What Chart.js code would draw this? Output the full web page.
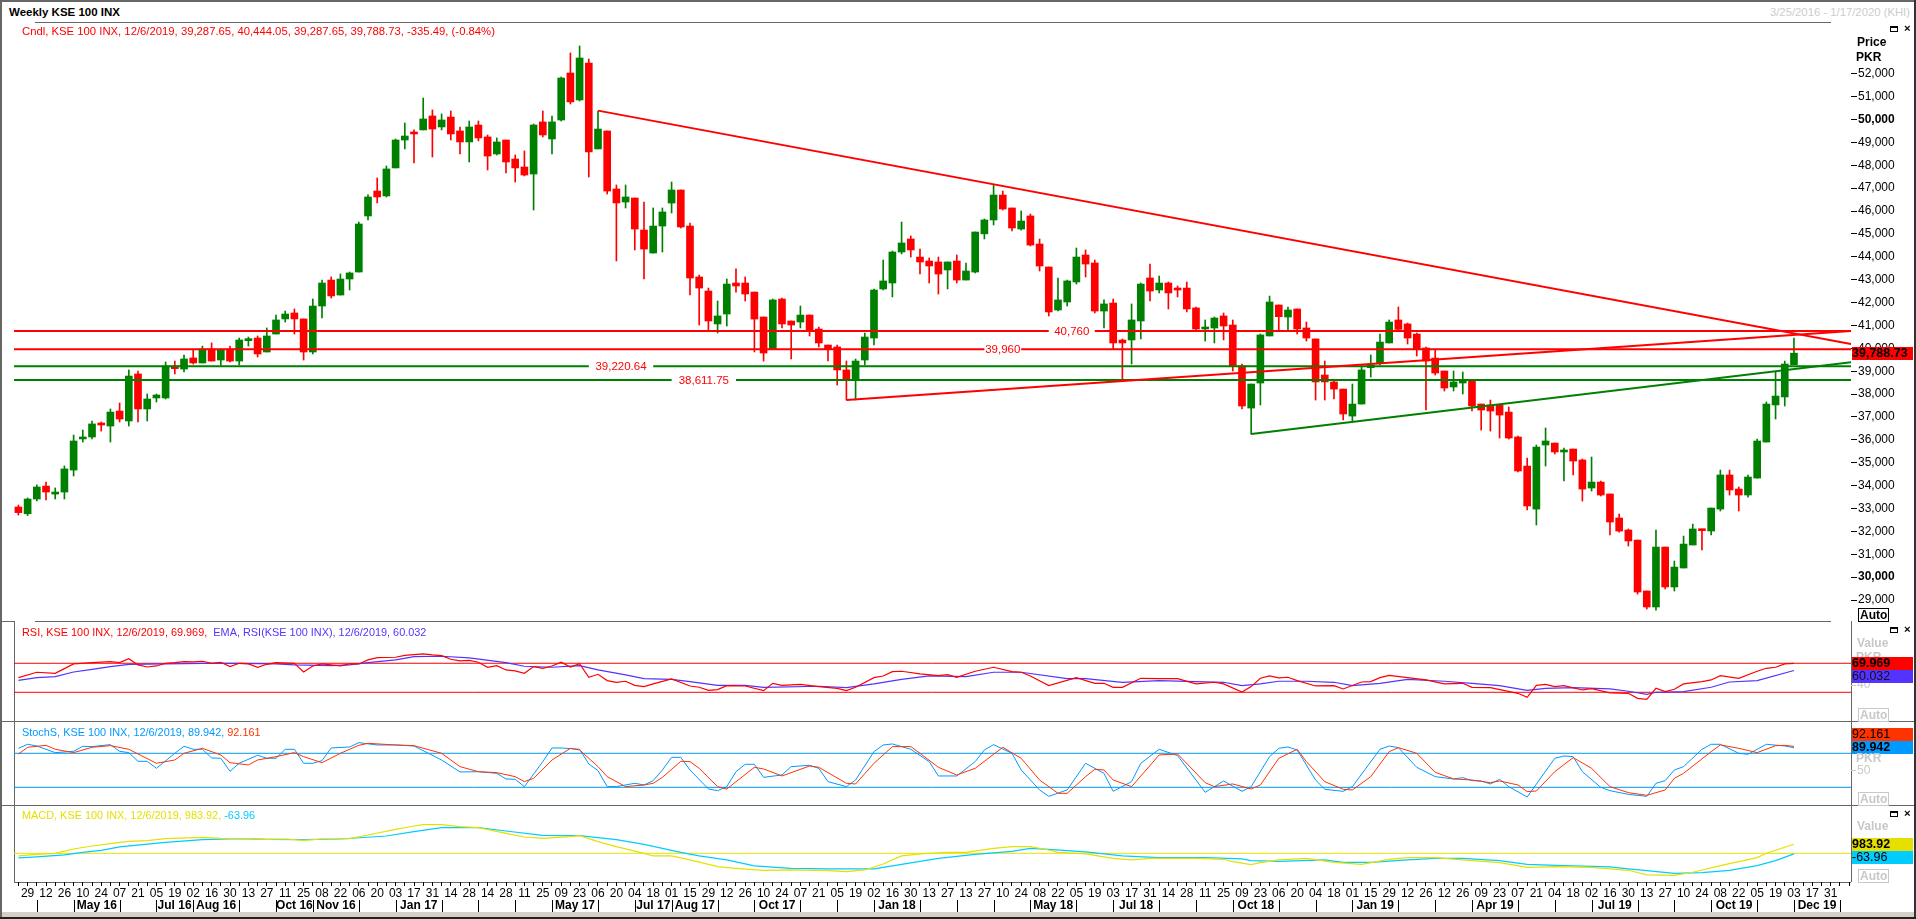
<!DOCTYPE html>
<html>
<head>
<meta charset="utf-8">
<title>Weekly KSE 100 INX</title>
<script src="https://cdn.jsdelivr.net/npm/chart.js@4"></script>
<style>
  html, body { margin: 0; padding: 0; background: #fff; overflow: hidden; }
  #page { position: relative; width: 1916px; height: 919px; font: 11.3px "Liberation Sans", sans-serif; }
  canvas { position: absolute; left: 0; }
  .t { position: absolute; white-space: nowrap; line-height: 13px; }
  .b { font-weight: bold; }
  .leg { font-size: 10.9px; }
  .faint { color: #c8c8c8; font-weight: bold; font-size: 12px; }
  .ln { position: absolute; background: #666; }
  .val { position: absolute; left: 1852px; width: 61px; height: 13px; line-height: 13px; color: #000; font-size: 12.5px; }
  .auto { position: absolute; left: 1858px; height: 12px; line-height: 12px; padding: 0 1px; border: 1px solid #000; font-weight: bold; font-size: 12px; }
  .auto.off { border-color: #c8c8c8; color: #c8c8c8; }
  .ico { position: absolute; width: 6px; height: 3px; border: 1px solid #000; border-top-width: 2px; }
</style>
</head>
<body>
<div id="page">
  <!-- frame -->
  <div class="ln" style="left:0;top:0;width:1916px;height:2px"></div>
  <div class="ln" style="left:0;top:0;width:2px;height:919px"></div>
  <div class="ln" style="left:1914px;top:0;width:2px;height:919px;background:#333"></div>
  <div class="ln" style="left:0;top:917px;width:1916px;height:2px;background:#222"></div>
  <div class="ln" style="left:2px;top:912px;width:1912px;height:5px;background:#d4d0c8"></div>
  <div class="ln" style="left:35px;top:22px;width:1796px;height:1px"></div>
  <div class="ln" style="left:2px;top:621px;width:12px;height:1px"></div>
  <div class="ln" style="left:35px;top:621px;width:1796px;height:1px"></div>
  <div class="ln" style="left:2px;top:721px;width:1912px;height:1px"></div>
  <div class="ln" style="left:2px;top:805px;width:1912px;height:1px"></div>
  <div class="ln" style="left:14px;top:882px;width:1837px;height:1px"></div>
  <div class="ln" style="left:14px;top:621px;width:1px;height:261px"></div>
  <div class="ln" style="left:1851px;top:621px;width:1px;height:261px"></div>

  <canvas id="mainChart" width="1916" height="599" style="top:22px"></canvas>
  <canvas id="rsiChart" width="1916" height="100" style="top:621px"></canvas>
  <canvas id="stochChart" width="1916" height="84" style="top:721px"></canvas>
  <canvas id="macdChart" width="1916" height="111" style="top:805px"></canvas>

  <div class="t b" style="left:9px;top:6px;font-size:11.5px">Weekly KSE 100 INX</div>
  <div class="t" style="right:6px;top:6px;color:#ccc">3/25/2016 - 1/17/2020 (KHI)</div>
  <div class="t" style="left:22px;top:25px;color:#f00">Cndl, KSE 100 INX, 12/6/2019, 39,287.65, 40,444.05, 39,287.65, 39,788.73, -335.49, (-0.84%)</div>
  <div class="t leg" style="left:22px;top:626px;color:#f00">RSI, KSE 100 INX, 12/6/2019, 69.969, &nbsp;<span style="color:#5533ff">EMA, RSI(KSE 100 INX), 12/6/2019, 60.032</span></div>
  <div class="t leg" style="left:22px;top:726px;color:#0099ff">StochS, KSE 100 INX, 12/6/2019, 89.942, <span style="color:#ff3300">92.161</span></div>
  <div class="t leg" style="left:22px;top:809px;color:#e6e000">MACD, KSE 100 INX, 12/6/2019, 983.92, <span style="color:#00ccff">-63.96</span></div>

  <div class="t b" style="left:1857px;top:36px;font-size:12px">Price</div>
  <div class="t b" style="left:1856px;top:51px;font-size:12px">PKR</div>
  <div class="auto" style="top:608px">Auto</div>
  <div class="val b" style="top:347px;background:#f00">39,788.73</div>

  <div class="ico" style="left:1890px;top:26px"></div><div class="t b" style="left:1904px;top:22px">×</div>
  <div class="ico" style="left:1890px;top:627px"></div><div class="t b" style="left:1904px;top:623px">×</div>
  <div class="ico" style="left:1890px;top:811px"></div><div class="t b" style="left:1904px;top:807px">×</div>

  <div class="t faint" style="left:1857px;top:637px">Value</div>
  <div class="t faint" style="left:1856px;top:651px">PKR</div>
  <div class="val b" style="top:657px;background:#f00">69.969</div>
  <div class="val" style="top:670px;background:#5533ff;color:#111">60.032</div>
  <div class="auto off" style="top:708px">Auto</div>

  <div class="val" style="top:728px;background:#ff3300">92.161</div>
  <div class="val b" style="top:741px;background:#0099ff">89.942</div>
  <div class="t faint" style="left:1856px;top:752px">PKR</div>
  <div class="auto off" style="top:792px">Auto</div>

  <div class="t faint" style="left:1857px;top:820px">Value</div>
  <div class="val b" style="top:838px;background:#e6e000">983.92</div>
  <div class="val" style="top:851px;background:#00ccff">-63.96</div>
  <div class="auto off" style="top:869px">Auto</div>
</div>

<script>
const opens = [33065,32770,33415,33980,33630,33720,34680,36040,36125,36735,
  36605,37260,36825,38880,37350,37830,37830,39230,39095,39580,
  39360,39970,39490,39970,39445,40335,40450,39840,40625,41285,
  41545,41285,39840,41850,42985,42330,43030,43335,45785,46875,
  46660,47885,49105,49455,49545,50155,49675,50110,49500,49020,
  49760,49240,48495,49105,48275,47925,47620,49895,49150,49980,
  52035,50855,52470,48715,49500,46965,46395,46570,45170,44165,
  45345,46350,46920,45345,43120,42505,41065,41500,42855,42855,
  42460,41370,39970,42155,41195,41150,41455,40845,40145,40060,
  39055,38615,39490,40450,42595,42855,44210,44780,43990,43815,
  43775,43425,43815,42985,43335,45005,45610,46700,46135,45215,
  45785,44560,43555,41675,42025,42900,44080,43730,41630,41980,
  40365,40365,41195,43075,42550,42855,42635,42635,41765,40845,
  40890,41415,41020,39230,37390,38485,40540,41895,41370,41720,
  40890,40410,38835,38530,38220,37040,37565,39155,39360,40235,
  41240,41065,40625,40015,39575,39010,38310,38485,38615,37565,
  37525,37525,37215,36125,34855,32975,35775,35860,35470,35600,
  35120,33895,34155,33635,32585,32060,31620,29395,28695,31315,
  29570,30400,31405,32105,32015,32975,34465,33850,33590,34330,
  35905,37525,37875,39287.65];
const closes = [32820,33415,33940,33720,33720,34730,35950,36125,36695,36650,
  37215,36910,38790,37350,37785,37960,39230,39110,39535,39360,
  39970,39445,39930,39445,40365,40365,39755,40540,41240,41500,
  41285,39840,41850,42855,42290,43030,43295,45435,46615,46615,
  47840,49105,49280,49370,50025,49585,49980,49370,49020,49675,
  49195,48405,49020,48145,47885,47575,49760,49325,49895,51815,
  50770,52690,48580,49585,46875,46355,46615,45215,44340,45345,
  45960,46920,45305,43075,42635,41195,41415,42810,42725,42375,
  41280,39795,42115,41065,41020,41455,40755,40235,39970,39055,
  38615,39445,40495,42550,42945,44210,44605,44300,43775,43600,
  43250,43775,42985,43380,45085,45610,46700,46090,45260,45565,
  44515,43600,41590,42115,42945,43990,43685,41630,41940,40235,
  40235,41240,42810,42505,42855,42420,42550,41720,40845,40930,
  41325,40975,39230,37480,38440,40585,42025,41385,41675,40845,
  40450,38530,38530,38220,37130,37565,39055,39270,40275,41150,
  40830,40450,39970,39445,38920,38265,38530,38615,37480,37305,
  37260,37085,36080,34640,33110,35685,35950,35470,35555,35075,
  33850,34155,33590,32410,32015,31580,29350,28695,31315,29570,
  30440,31445,32105,32030,33020,34465,33810,33590,34375,35950,
  37565,37915,39315,39788.73];
const highs = [33150,33460,34030,34160,33900,34860,36210,36430,36825,36780,
  37350,37610,39055,39010,38005,38005,39405,39445,39710,39930,
  40100,40235,39970,40100,40450,40495,40540,40890,41455,41630,
  41720,41285,42155,42985,43120,43250,43335,45520,46705,47445,
  47970,49150,49850,49545,50940,50420,50245,50375,49675,49935,
  49935,49325,49195,49105,48450,48625,49805,50375,50155,51860,
  52910,53215,52645,50375,49500,47140,47140,46570,46395,46135,
  46135,47270,46920,45480,43205,42635,42070,43030,43470,43120,
  42460,41370,42155,42200,41195,41850,41455,40930,40145,40145,
  39445,39535,40670,42595,43860,44255,45520,44910,44340,43950,
  43990,43775,44080,43730,45085,45655,47140,46875,46135,46005,
  45870,44780,43555,43075,42985,44385,44300,43860,42115,42155,
  40410,41940,42855,43685,43160,42900,42725,42900,41805,41240,
  41370,41545,41240,39315,38440,40625,42285,41895,41805,41720,
  41150,40410,39445,38615,38220,38440,39230,39710,40625,41240,
  41805,41105,40670,40060,39925,39010,39010,38965,38615,37565,
  37740,37525,37435,36170,35205,35775,36520,35860,35645,35600,
  35165,35250,34200,33635,32760,32105,31620,29395,32060,31315,
  30705,31795,32320,32105,33020,34680,34680,33940,34465,36035,
  37655,38965,39445,40444.05];
const lows = [32715,32690,33330,33370,33415,33415,34420,35905,36040,36385,
  35905,36780,36605,36780,36825,37655,37785,38880,38965,39315,
  39360,39445,39270,39405,39270,40100,39620,39840,40625,41150,
  40625,39490,39755,41325,42200,42330,42550,43335,45610,46355,
  46615,47885,48715,48100,49545,48365,49545,49105,48495,48145,
  49065,47795,48450,47665,47270,47535,46045,49240,48495,49935,
  50680,50810,47490,48715,46745,43820,46135,44300,43030,44165,
  44210,45915,45260,42330,41020,40800,40670,40975,42460,42070,
  39840,39445,39970,40890,39535,40890,40540,40060,39445,38395,
  37740,37740,39270,40145,42550,42245,44125,43990,43250,42855,
  42375,42595,42855,42985,43295,44780,45390,46045,45130,45170,
  44475,43380,41415,41630,41850,42810,43120,41545,40890,39970,
  38615,39315,40410,42070,42420,41720,42245,41590,40800,40320,
  40235,40365,39010,37350,36250,37525,40540,40800,40800,40625,
  40320,37740,37740,37785,36870,36780,37565,38745,39270,40235,
  40800,40190,39665,37305,38835,38135,38135,38005,37260,36430,
  36385,36080,36035,34595,32935,32280,34855,35380,34200,34465,
  33325,33765,33545,31840,31970,31360,29260,28605,28560,29480,
  29395,30400,31405,31185,31840,32890,33590,32890,33500,34330,
  35905,36910,37480,39287.65];

// support / resistance levels, the gap is where the line leaves room for its label
const levelValues = [40760, 39960, 39220.64, 38611.75];
const levelLabels = ['40,760', '39,960', '39,220.64', '38,611.75'];
const levelColors = ['#ff0000', '#ff0000', '#008000', '#008000'];
const levelGapFrom = [112, 105, 62, 71];
const levelGapTo = [117, 109, 69, 78];

// trend lines, week index and price of both ends
const trendDownWeeks = [63, 199.2];
const trendDownPrices = [50389, 40189];
const trendUpRedWeeks = [90, 199.2];
const trendUpRedPrices = [37742, 40757];
const trendUpGreenWeeks = [134, 199.2];
const trendUpGreenPrices = [36256, 39388];

const rsiWeeks = [0,2,4,6,8,10,11,12,13,14,15,16,17,18,19,20,21,22,23,24,25,26,27,28,30,31,32,33,34,35,36,37,38,39,41,42,44,45,46,47,48,49,50,51,52,53,54,55,56,57,58,59,60,61,62,63,64,65,66,67,
  68,69,71,73,74,75,76,77,79,81,82,83,85,87,89,90,91,93,94,95,96,98,100,101,102,104,106,108,109,110,112,115,117,118,119,120,122,124,126,128,130,131,133,134,135,136,137,138,139,141,143,144,146,147,148,149,151,153,155,157,158,160,163,164,165,166,167,168,170,171,173,175,176,177,178,179,180,181,183,184,185,187,189,190,191,192,193];
const rsiValues = [50.2,57.6,56.2,69.1,70.9,72.3,70.9,76.4,67.7,64.9,66.3,70,70.9,72.3,71.8,72.8,70,71.4,65.4,70,69.1,64.5,68.6,70.9,70,58,66.3,69.1,67.7,66.3,69.1,69.1,74.6,77.8,78.3,81,82.9,81.5,80.6,75.5,73.2,74.1,71.4,64.5,66.8,60.8,59.4,56.2,65.4,63.1,66.3,71.4,64.9,69.5,50.7,54.8,46.1,43.8,45.2,39.6,
  37.8,41.5,48.4,38.7,36.9,32.7,33.7,39.2,38.7,32.3,42.4,39.6,41,37.8,35.5,32.3,36.9,50.2,52.5,58.5,59,55.3,53,54.4,50.7,59,64.5,58.5,57.6,52.5,39.2,50.2,42.4,42.4,36.9,36.9,49.3,48.8,48.8,41.5,43.8,41.5,30.4,37.8,49.3,52.5,49.8,50.7,46.1,38.7,39.2,34.6,44.2,44.7,50.2,53.4,50.2,47,41.5,42.4,36.9,36.4,28.6,23.1,39.6,41,37.8,39.2,33.2,35,29.1,28.6,21.7,20.3,35.5,30.9,34.1,41.5,44.7,47,53,49.3,59,63.1,64.5,69.1,69.97];
const emaWeeks = [0,2,4,6,8,10,12,16,20,24,28,30,34,36,38,41,43,46,49,53,55,58,61,63,66,68,71,73,76,79,81,87,90,93,96,99,103,106,109,114,116,120,124,128,131,133,135,137,140,143,145,148,151,155,158,161,164,166,169,173,175,177,178,181,184,186,189,193];
const emaValues = [46.5,50.2,51.6,58,61.7,65.4,68.6,69.1,70,70,69.1,67.7,66.8,67.7,70.9,74.6,79.2,79.7,77.4,70.9,65.9,64.5,66.8,60.8,53.9,48.8,47.9,44.7,39.6,39.6,36.9,38.3,36.4,41.5,47.9,52.5,51.6,57.6,57.6,48.8,48.8,43.8,46.1,44.7,43.8,39.2,41.5,45.2,45.2,43.8,39.2,42.4,47.9,45.2,42.4,39.2,32.7,35.5,36.4,34.6,31.4,27.2,30,30.9,36.9,44.2,46.1,60.03];

const stochKWeeks = [0,1,2,4,6,7,8,10,11,12,13,14,15,17,18,19,20,21,22,23,24,26,27,28,29,30,31,32,33,34,36,37,39,41,43,46,48,50,52,53,54,55,57,58,59,61,62,63,64,65,67,
  68,69,70,71,72,73,75,76,77,78,79,80,81,83,84,86,87,88,90,91,93,94,95,97,99,100,102,104,105,106,108,109,111,112,114,116,118,119,121,122,124,126,129,131,133,134,136,137,
  138,139,141,142,144,145,148,149,150,152,154,156,157,158,159,160,161,162,164,167,168,169,170,172,173,175,177,178,179,180,181,183,184,185,187,188,190,192,193];
const stochKValues = [88.8,95.9,92.9,81.2,83.5,92.4,91.8,95.3,83.5,81.2,65.9,65.9,53.5,80,92.4,87.1,87.1,71.8,71.2,48.2,62.4,76.5,71.2,71.2,87.1,87.1,62.4,62.4,67.1,89.4,91.2,98.8,94.7,94.7,92.9,68.2,47.1,47.6,44.7,34.7,34.1,21.2,65.3,89.4,89.4,87.1,61.2,49.4,21.2,21.2,27.1,
  24.1,31.8,50.6,72.9,72.9,50.6,17.1,14.1,21.2,47.6,60.6,60.6,37.6,41.8,56.5,58.8,53.5,30,21.2,32.9,82.9,94.7,96.5,87.1,65.3,40,40,65.3,85.9,95.3,80,50.6,15.3,4.1,15.3,62.4,44.7,12.9,30,62.4,87.1,75.9,11.2,31.2,12.9,21.2,74.1,88.8,
  91.2,85.9,32.9,16.5,12.9,21.2,87.1,92.9,90,55.3,38.8,34.7,37.1,31.8,31.2,25.9,34.1,21.2,2.9,71.2,75.3,74.1,47.6,20,14.1,7.6,4.1,27.1,31.8,50.6,56.5,87.1,95.9,95.9,80,78.2,95.9,92.9,89.94];
const stochDWeeks = [0,1,3,4,6,8,10,12,15,17,18,20,22,23,25,26,28,30,31,33,35,37,38,41,43,46,48,50,52,54,55,56,58,60,61,63,64,66,68,
  69,70,72,73,74,76,77,80,81,83,86,87,90,91,93,95,97,98,100,102,104,107,109,111,113,114,116,117,118,119,121,124,126,129,130,132,134,135,137,
  139,140,142,144,145,147,149,150,152,154,156,158,160,161,163,164,165,167,169,171,173,175,177,179,180,181,184,185,187,189,191,192,193];
const stochDValues = [78.8,90.6,94.1,87.1,81.2,90.6,93.5,87.1,62.4,68.2,80,88.8,77.1,63.5,59.4,68.2,74.1,81.2,74.1,63.5,80,94.1,97.6,94.7,93.5,80,56.5,47.6,45.9,38.8,30,35.9,68.2,88.8,85.9,56.5,38.8,21.2,24.1,
  27.1,37.6,65.9,65.3,53.5,21.2,17.1,55.3,52.4,40,57.6,55.3,27.1,25.9,62.4,91.8,91.8,80,55.3,41.8,53.5,90.6,71.2,32.9,9.4,9.4,38.8,51.8,50.6,32.9,21.2,77.1,78.8,28.2,21.2,25.9,17.1,24.1,71.2,
  87.1,65.3,30,16.5,15.3,38.8,82.9,90,80,46.5,34.7,32.9,28.2,31.2,24.1,12.4,13.5,47.6,72.4,53.5,21.2,10.6,5.9,15.3,35.9,44.7,82.9,94.7,88.8,81.2,93.5,94.1,92.16];

const macdWeeks = [0,2,4,6,8,10,12,14,16,20,22,25,27,29,31,33,36,38,41,43,44,46,48,50,53,55,57,60,61,63,65,68,
  69,71,73,76,78,81,84,88,90,92,94,96,98,101,103,106,108,110,112,113,116,119,121,123,124,128,131,132,134,135,137,
  140,143,146,149,151,154,158,161,164,167,171,175,177,180,182,185,189,190,193];
const macdValues = [-291,-109,0,473,801,1056,1310,1383,1602,1747,1638,1602,1529,1565,1420,1565,1602,2002,2621,2985,3130,3130,2912,2803,2184,1784,1638,1820,1929,1274,728,0,
  -291,-291,-728,-1456,-1638,-1856,-1820,-1893,-2002,-1820,-1165,-291,-73,109,109,546,728,728,364,109,-73,-546,-728,-546,-546,-546,-655,-910,-1238,-1019,-728,
  -546,-983,-1201,-655,-473,-473,-801,-1019,-1529,-1456,-1529,-1856,-2366,-2402,-2075,-1347,-473,0,983.92];
const signalWeeks = [0,2,5,7,9,11,16,20,24,27,31,35,40,43,46,50,53,57,61,65,68,
  72,74,77,80,84,88,93,96,100,104,108,110,112,116,120,124,129,133,134,137,
  142,144,147,151,154,157,161,164,168,173,175,177,180,183,186,189,191,193];
const signalValues = [-510,-400,-182,109,328,692,1201,1492,1602,1529,1492,1565,1893,2366,2803,2803,2439,1966,1929,1492,983,
  109,-291,-728,-1383,-1638,-1711,-1711,-1201,-546,-109,218,546,437,146,-291,-473,-473,-619,-801,-874,
  -728,-983,-983,-728,-546,-546,-801,-1201,-1347,-1492,-1711,-1893,-2184,-2111,-1856,-1347,-801,-63.96];

// x axis, one tick per week and a label on every second one
const dayLabels = ['29','12','26','10','24','07','21','05','19','02','16','30','13','27','11','25','08','22','06','20','03','17','31','14','28','14','28','11','25','09','23','06','20','04',
  '18','01','15','29','12','26','10','24','07','21','05','19','02','16','30','13','27','13','27','10','24','08','22','05','19','03','17','31','14','28','11','25','09','23',
  '06','20','04','18','01','15','29','12','26','12','26','09','23','07','21','04','18','02','16','30','13','27','10','24','08','22','05','19','03','17','31'];
const monthStarts = [2,6,11,15,19,24,28,32,37,41,46,50,54,58,63,67,71,76,80,85,89,93,98,102,106,110,115,119,124,128,132,137,141,145,150,154,158,163,167,171,176,180,184,189,193,198];
const monthNames = ['','May 16','','Jul 16','Aug 16','','Oct 16','Nov 16','','Jan 17','','','','May 17','','Jul 17','Aug 17','','Oct 17','','','Jan 18','','','','May 18','','Jul 18','','','Oct 18','','','Jan 19','','','Apr 19','','','Jul 19','','','Oct 19','','Dec 19',''];

const priceTicks = [29000,30000,31000,32000,33000,34000,35000,36000,37000,38000,39000,40000,41000,42000,43000,44000,45000,46000,47000,48000,49000,50000,51000,52000];
const boldPriceTicks = [30000, 50000];

const FONT = '"Liberation Sans", sans-serif';
const xMin = -0.48, xMax = 199.2;
const AXIS_WIDTH = 65, LEFT = 14;

Chart.defaults.font.family = FONT;
Chart.defaults.font.size = 12;
Chart.defaults.animation = false;
Chart.defaults.responsive = false;
Chart.defaults.devicePixelRatio = 1;
Chart.defaults.layout.autoPadding = false;
Chart.defaults.plugins.legend.display = false;
Chart.defaults.plugins.tooltip.enabled = false;

const zip = (xs, ys) => xs.map((x, i) => ({ x: x, y: ys[i] }));
const lineSet = (data, color, width, order) => ({
  type: 'line', data: data, borderColor: color, borderWidth: width, pointRadius: 0, tension: 0, order: order
});

// the axis keeps its fixed width and no room for half a label above and below
function fitY(s) {
  s.width = AXIS_WIDTH;
  s.paddingTop = 0;
  s.paddingBottom = 0;
}

function hiddenX() {
  return { type: 'linear', min: xMin, max: xMax, offset: false, display: false };
}

function panelY(min, max, tick) {
  return {
    type: 'linear', position: 'right', min: min, max: max,
    afterBuildTicks: s => { s.ticks = [{ value: tick === undefined ? max : tick }]; },
    afterFit: fitY,
    border: { display: false },
    grid: { drawOnChartArea: false, drawTicks: tick !== undefined, tickLength: 5, tickColor: '#c8c8c8' },
    ticks: { display: tick !== undefined, color: '#c8c8c8', padding: 1, font: { size: 12 } }
  };
}

// candles, wick and body are two sets of floating bars
const candleColor = i => closes[i] < opens[i] ? '#ff0000' : '#008000';
const wicks = {
  data: highs.map((h, i) => ({ x: i, y: [lows[i], h] })),
  backgroundColor: highs.map((h, i) => candleColor(i)),
  barThickness: 1, grouped: false, order: 3
};
const bodies = {
  data: opens.map((o, i) => ({ x: i, y: [Math.min(o, closes[i]), Math.max(o, closes[i])] })),
  backgroundColor: opens.map((o, i) => candleColor(i)),
  barThickness: 7, grouped: false, minBarLength: 2, order: 2
};

const levelSets = levelValues.map((v, k) => lineSet([
  { x: xMin, y: v }, { x: levelGapFrom[k], y: v }, { x: levelGapFrom[k], y: null },
  { x: levelGapTo[k], y: v }, { x: xMax, y: v }
], levelColors[k], 2, 1));

const levelLabelPlugin = {
  id: 'levelLabels',
  afterDatasetsDraw(chart) {
    const { ctx, scales: { x, y } } = chart;
    ctx.save();
    ctx.fillStyle = '#ff0000';
    ctx.font = '11.5px ' + FONT;
    ctx.textAlign = 'center';
    ctx.textBaseline = 'middle';
    levelLabels.forEach((text, k) => {
      const mid = (levelGapFrom[k] + levelGapTo[k]) / 2;
      ctx.fillText(text, x.getPixelForValue(mid), y.getPixelForValue(levelValues[k]) + 1);
    });
    ctx.restore();
  }
};

new Chart(document.getElementById('mainChart'), {
  type: 'bar',
  data: {
    datasets: [
      wicks,
      bodies,
      ...levelSets,
      lineSet(zip(trendDownWeeks, trendDownPrices), '#ff0000', 2, 0),
      lineSet(zip(trendUpRedWeeks, trendUpRedPrices), '#ff0000', 2, 0),
      lineSet(zip(trendUpGreenWeeks, trendUpGreenPrices), '#008000', 2, 0)
    ]
  },
  options: {
    layout: { padding: { left: LEFT, top: 0, right: 0, bottom: 0 } },
    scales: {
      x: hiddenX(),
      y: {
        type: 'linear', position: 'right', min: 28083, max: 54263,
        afterBuildTicks: s => { s.ticks = priceTicks.map(v => ({ value: v })); },
        afterFit: fitY,
        border: { display: false },
        grid: { drawOnChartArea: false, tickLength: 6, tickColor: '#000' },
        ticks: {
          color: '#000', padding: 1, autoSkip: false,
          callback: v => v.toLocaleString('en-US'),
          font: c => ({ size: 12, weight: c.tick && boldPriceTicks.includes(c.tick.value) ? 'bold' : 'normal' })
        }
      }
    }
  },
  plugins: [levelLabelPlugin]
});

const flat = (value) => [{ x: xMin, y: value }, { x: xMax, y: value }];

new Chart(document.getElementById('rsiChart'), {
  type: 'line',
  data: {
    datasets: [
      lineSet(flat(70), '#ff0000', 1, 2),
      lineSet(flat(30), '#ff0000', 1, 2),
      lineSet(zip(emaWeeks, emaValues), '#5533ff', 1.2, 1),
      lineSet(zip(rsiWeeks, rsiValues), '#ff0000', 1.2, 0)
    ]
  },
  options: {
    layout: { padding: { left: LEFT } },
    scales: { x: hiddenX(), y: panelY(-9.6, 128.3, 40) }
  }
});

new Chart(document.getElementById('stochChart'), {
  type: 'line',
  data: {
    datasets: [
      lineSet(flat(80), '#0099ee', 1, 2),
      lineSet(flat(20), '#0099ee', 1, 2),
      lineSet(zip(stochKWeeks, stochKValues), '#0099ff', 1, 1),
      lineSet(zip(stochDWeeks, stochDValues), '#ff3300', 1, 0)
    ]
  },
  options: {
    layout: { padding: { left: LEFT } },
    scales: { x: hiddenX(), y: panelY(-11.2, 137, 50) }
  }
});

// month row under the day labels
const monthRowPlugin = {
  id: 'monthRow',
  afterDraw(chart) {
    const { ctx, scales: { x }, chartArea } = chart;
    const top = chartArea.bottom + 18, bottom = chartArea.bottom + 30;
    ctx.save();
    ctx.fillStyle = '#000';
    ctx.font = 'bold 12px ' + FONT;
    ctx.textAlign = 'center';
    ctx.textBaseline = 'middle';
    monthStarts.forEach((week, k) => {
      const px = Math.round(x.getPixelForValue(week));
      ctx.fillRect(px, top, 1, bottom - top);
      if (monthNames[k]) {
        const next = x.getPixelForValue(monthStarts[k + 1]);
        ctx.fillText(monthNames[k], (px + next) / 2, (top + bottom) / 2);
      }
    });
    ctx.restore();
  }
};

new Chart(document.getElementById('macdChart'), {
  type: 'line',
  data: {
    datasets: [
      lineSet(flat(0), '#e6e000', 1, 2),
      lineSet(zip(signalWeeks, signalValues), '#00ccff', 1.2, 1),
      lineSet(zip(macdWeeks, macdValues), '#e6e000', 1.2, 0)
    ]
  },
  options: {
    layout: { padding: { left: LEFT } },
    scales: {
      x: {
        type: 'linear', min: xMin, max: xMax, offset: false,
        afterBuildTicks: s => {
          s.ticks = Array.from({ length: 200 }, (_, i) => ({ value: i }));
        },
        afterFit: s => { s.height = 34; s.paddingLeft = 0; s.paddingRight = 0; },
        border: { display: false },
        grid: { drawOnChartArea: false, tickLength: 4, tickColor: '#000' },
        ticks: {
          color: '#000', padding: 0, autoSkip: false, maxRotation: 0, minRotation: 0,
          callback: v => (v % 2 === 1 ? dayLabels[(v - 1) / 2] || '' : '')
        }
      },
      y: panelY(-3137, 5279)
    }
  },
  plugins: [monthRowPlugin]
});
</script>
</body>
</html>
